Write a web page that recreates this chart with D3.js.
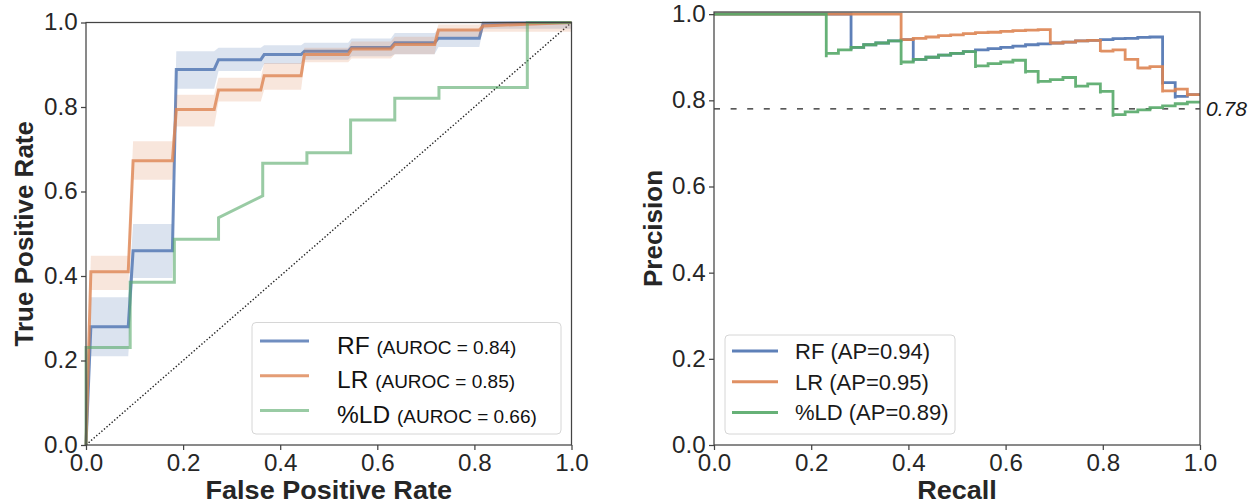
<!DOCTYPE html>
<html><head><meta charset="utf-8">
<script src="https://cdn.jsdelivr.net/npm/d3@7"></script>
<style>body{margin:0;background:#fff}svg{display:block}text{font-family:"Liberation Sans",Arial,sans-serif}</style>
</head><body><svg id="c" width="1254" height="504"></svg>
<script>
// ---------- data ----------
const tickValues = [0, 0.2, 0.4, 0.6, 0.8, 1.0];
const seriesNames = ["RF", "LR", "%LD"];
const aurocLabels = ["(AUROC = 0.84)", "(AUROC = 0.85)", "(AUROC = 0.66)"];
const apLabels = ["RF (AP=0.94)", "LR (AP=0.95)", "%LD (AP=0.89)"];
const baseline = 0.78;

// mean ROC grid (RF, LR)
const meanFpr = [0, 0.01, 0.087, 0.097, 0.178, 0.186, 0.264, 0.273, 0.36, 0.367, 0.443, 0.45, 0.54, 0.547, 0.628, 0.636, 0.718, 0.726, 0.81, 0.818, 1.0];
const rfTpr  = [0, 0.28, 0.28, 0.46, 0.46, 0.889, 0.889, 0.912, 0.912, 0.924, 0.924, 0.932, 0.932, 0.941, 0.941, 0.952, 0.952, 0.963, 0.963, 0.998, 1.0];
const rfLo   = [0, 0.21, 0.21, 0.395, 0.395, 0.843, 0.843, 0.885, 0.885, 0.902, 0.902, 0.912, 0.912, 0.92, 0.92, 0.925, 0.925, 0.942, 0.942, 0.985, 0.985];
const rfHi   = [0, 0.35, 0.35, 0.523, 0.523, 0.932, 0.932, 0.94, 0.94, 0.946, 0.946, 0.952, 0.952, 0.962, 0.962, 0.975, 0.975, 0.984, 0.984, 1.0, 1.0];
const lrTpr  = [0, 0.41, 0.41, 0.673, 0.673, 0.794, 0.794, 0.84, 0.84, 0.874, 0.874, 0.924, 0.924, 0.937, 0.937, 0.948, 0.948, 0.982, 0.982, 0.992, 1.0];
const lrLo   = [0, 0.367, 0.367, 0.628, 0.628, 0.754, 0.754, 0.813, 0.813, 0.841, 0.841, 0.906, 0.906, 0.915, 0.915, 0.925, 0.925, 0.966, 0.966, 0.978, 0.978];
const lrHi   = [0, 0.448, 0.448, 0.719, 0.719, 0.829, 0.829, 0.869, 0.869, 0.904, 0.904, 0.94, 0.94, 0.955, 0.955, 0.966, 0.966, 0.995, 0.995, 1.0, 1.0];
// %LD ROC
const ldFpr = [0, 0, 0.091, 0.091, 0.182, 0.182, 0.273, 0.273, 0.364, 0.364, 0.455, 0.455, 0.545, 0.545, 0.636, 0.636, 0.727, 0.727, 0.909, 0.909, 1.0];
const ldTpr = [0, 0.231, 0.231, 0.385, 0.385, 0.487, 0.487, 0.538, 0.590, 0.667, 0.667, 0.692, 0.692, 0.769, 0.769, 0.821, 0.821, 0.846, 0.846, 1.0, 1.0];

// precision-recall curves
const rfRecall = [0, 0.282, 0.282, 0.308, 0.333, 0.359, 0.385, 0.410, 0.410, 0.436, 0.462, 0.487, 0.513, 0.538, 0.564, 0.590, 0.615, 0.641, 0.667, 0.692, 0.718, 0.744, 0.769, 0.795, 0.821, 0.846, 0.872, 0.897, 0.923, 0.923, 0.949, 0.949, 0.974, 1.0];
const rfPrecision = [1, 1, 0.917, 0.923, 0.929, 0.933, 0.938, 0.941, 0.889, 0.895, 0.900, 0.905, 0.909, 0.913, 0.917, 0.920, 0.923, 0.926, 0.929, 0.931, 0.933, 0.935, 0.938, 0.939, 0.941, 0.943, 0.944, 0.946, 0.947, 0.837, 0.841, 0.804, 0.809, 0.813];
const lrRecall = [0, 0.385, 0.385, 0.410, 0.436, 0.462, 0.487, 0.513, 0.538, 0.564, 0.590, 0.615, 0.641, 0.667, 0.692, 0.692, 0.718, 0.744, 0.769, 0.795, 0.795, 0.821, 0.846, 0.846, 0.872, 0.872, 0.897, 0.923, 0.923, 0.949, 0.974, 0.974, 1.0];
const lrPrecision = [1, 1, 0.938, 0.941, 0.944, 0.947, 0.950, 0.952, 0.955, 0.957, 0.958, 0.960, 0.962, 0.963, 0.964, 0.931, 0.933, 0.935, 0.938, 0.939, 0.912, 0.914, 0.917, 0.892, 0.895, 0.872, 0.875, 0.878, 0.818, 0.822, 0.826, 0.809, 0.813];
const ldRecall = [0, 0.231, 0.231, 0.256, 0.282, 0.308, 0.333, 0.359, 0.385, 0.385, 0.410, 0.436, 0.462, 0.487, 0.513, 0.538, 0.538, 0.564, 0.590, 0.615, 0.641, 0.641, 0.667, 0.667, 0.692, 0.718, 0.744, 0.744, 0.769, 0.795, 0.795, 0.821, 0.821, 0.846, 0.872, 0.897, 0.923, 0.949, 0.974, 1.0];
const ldPrecision = [1, 1, 0.900, 0.909, 0.917, 0.923, 0.929, 0.933, 0.938, 0.882, 0.889, 0.895, 0.900, 0.905, 0.909, 0.913, 0.875, 0.880, 0.885, 0.889, 0.893, 0.862, 0.867, 0.839, 0.844, 0.848, 0.853, 0.829, 0.833, 0.838, 0.816, 0.821, 0.762, 0.767, 0.773, 0.778, 0.783, 0.787, 0.792, 0.796];

const colors = ["#4c72b0", "#dd8452", "#55a868"];

// ---------- drawing ----------
const svg = d3.select("#c");
const zip = (xs, ys) => xs.map((x, i) => [x, ys[i]]);
const SX = 1.05; // slight horizontal stretch seen in the reference text

function frame(x, y, xLabel, yLabel, yLabelX) {
  const g = svg.append("g");
  const [x0, x1] = x.range(), [yb, yt] = y.range();
  const ax = g.append("g").attr("transform", `translate(0,${yb})`)
    .call(d3.axisBottom(x).tickValues(tickValues).tickFormat(d3.format(".1f")).tickSize(5).tickPadding(5));
  const ay = g.append("g").attr("transform", `translate(${x0},0)`)
    .call(d3.axisLeft(y).tickValues(tickValues).tickFormat(d3.format(".1f")).tickSize(5).tickPadding(3));
  [ax, ay].forEach(a => {
    a.select(".domain").remove();
    a.selectAll("line").attr("stroke", "#444").attr("stroke-width", 1.25);
    a.selectAll("text").attr("font-size", 23).attr("fill", "#262626")
      .attr("font-family", '"Liberation Sans", Arial, sans-serif');
  });
  ax.selectAll(".tick text").attr("transform", `scale(${SX},1)`);
  ay.selectAll(".tick text").attr("transform", `scale(${SX},1)`);
  g.append("rect").attr("x", x0).attr("y", yt).attr("width", x1 - x0).attr("height", yb - yt)
    .attr("fill", "none").attr("stroke", "#444").attr("stroke-width", 1.25);
  g.append("text").attr("transform", `translate(${(x0 + x1) / 2},499) scale(1.04,1)`).attr("text-anchor", "middle")
    .attr("font-size", 26).attr("font-weight", "bold").attr("fill", "#262626").text(xLabel);
  g.append("text").attr("transform", `translate(${yLabelX},${(yb + yt) / 2}) rotate(-90)`)
    .attr("text-anchor", "middle").attr("font-size", 26).attr("font-weight", "bold")
    .attr("fill", "#262626").text(yLabel);
}

// ----- left: ROC -----
const xL = d3.scaleLinear([0, 1], [86, 571.5]);
const yL = d3.scaleLinear([0, 1], [445, 22.5]);
const lineL = d3.line().x(d => xL(d[0])).y(d => yL(d[1]));
const areaL = d3.area().x(d => xL(d[0])).y0(d => yL(d[1])).y1(d => yL(d[2]));

const gL = svg.append("g");
gL.append("path").attr("d", lineL([[0, 0], [1, 1]])).attr("fill", "none")
  .attr("stroke", "#222").attr("stroke-width", 1.4).attr("stroke-dasharray", "1.4,2");
const bands = [[rfLo, rfHi], [lrLo, lrHi]];
const means = [rfTpr, lrTpr];
means.forEach((m, i) => {
  gL.append("path").attr("d", areaL(meanFpr.map((f, j) => [f, bands[i][0][j], bands[i][1][j]])))
    .attr("fill", colors[i]).attr("fill-opacity", 0.2);
  gL.append("path").attr("d", lineL(zip(meanFpr, m))).attr("fill", "none")
    .attr("stroke", colors[i]).attr("stroke-opacity", 0.8).attr("stroke-width", 3);
});
gL.append("path").attr("d", lineL(zip(ldFpr, ldTpr))).attr("fill", "none")
  .attr("stroke", colors[2]).attr("stroke-opacity", 0.6).attr("stroke-width", 3);

frame(xL, yL, "False Positive Rate", "True Positive Rate", 33);

// left legend
const lgL = svg.append("g");
lgL.append("rect").attr("x", 252).attr("y", 322.5).attr("width", 309).attr("height", 111.5)
  .attr("rx", 4).attr("fill", "#fff").attr("fill-opacity", 0.8).attr("stroke", "#d6d6d6");
seriesNames.forEach((n, i) => {
  const ly = 341 + i * 34.7;
  lgL.append("line").attr("x1", 260).attr("x2", 309).attr("y1", ly).attr("y2", ly)
    .attr("stroke", colors[i]).attr("stroke-opacity", i === 2 ? 0.6 : 0.8).attr("stroke-width", 3);
  const t = lgL.append("text").attr("x", 337).attr("y", ly + 12.5).attr("fill", "#111");
  t.append("tspan").attr("font-size", 24.5).text(n + " ");
  t.append("tspan").attr("font-size", 19).text(aurocLabels[i]);
});

// ----- right: PR -----
const xR = d3.scaleLinear([0, 1], [714, 1200]);
const yR = d3.scaleLinear([0, 1.005], [445, 12]);
const stepR = d3.line().x(d => xR(d[0])).y(d => yR(d[1])).curve(d3.curveStepBefore);
const gR = svg.append("g");
gR.append("line").attr("x1", xR(0)).attr("x2", xR(1)).attr("y1", yR(baseline)).attr("y2", yR(baseline))
  .attr("stroke", "#222").attr("stroke-width", 1.3).attr("stroke-dasharray", "6,10.6");
[[rfRecall, rfPrecision], [lrRecall, lrPrecision], [ldRecall, ldPrecision]].forEach(([r, p], i) => {
  gR.append("path").attr("d", stepR(zip(r, p))).attr("fill", "none")
    .attr("stroke", colors[i]).attr("stroke-opacity", 0.9).attr("stroke-width", 2.8);
});
gR.append("text").attr("x", 1206).attr("y", yR(baseline) + 7.5).attr("font-size", 21)
  .attr("font-style", "italic").attr("fill", "#1a1a1a").text(d3.format(".2f")(baseline));

frame(xR, yR, "Recall", "Precision", 662);

// right legend
const lgR = svg.append("g");
lgR.append("rect").attr("x", 725).attr("y", 335).attr("width", 230).attr("height", 99)
  .attr("rx", 4).attr("fill", "#fff").attr("fill-opacity", 0.8).attr("stroke", "#d6d6d6");
apLabels.forEach((n, i) => {
  const ly = 351 + i * 30.8;
  lgR.append("line").attr("x1", 732).attr("x2", 778).attr("y1", ly).attr("y2", ly)
    .attr("stroke", colors[i]).attr("stroke-opacity", 0.9).attr("stroke-width", 3);
  lgR.append("text").attr("x", 795).attr("y", ly + 7.8).attr("font-size", 22).attr("fill", "#1a1a1a").text(n);
});
</script></body></html>
